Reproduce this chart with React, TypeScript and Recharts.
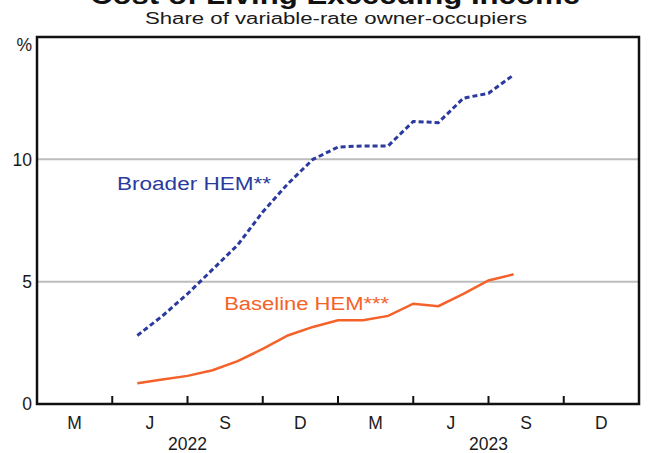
import React from 'react';
import { LineChart, Line, XAxis, YAxis, CartesianGrid, ReferenceArea, ReferenceDot } from 'recharts';

// ---- data ----
const months = [
  '2022-04', '2022-05', '2022-06', '2022-07', '2022-08', '2022-09', '2022-10', '2022-11',
  '2022-12', '2023-01', '2023-02', '2023-03', '2023-04', '2023-05', '2023-06', '2023-07',
];
const broaderHEM = [2.8, 3.6, 4.5, 5.5, 6.5, 7.85, 9.0, 10.0, 10.5, 10.55, 10.55, 11.55, 11.5, 12.5, 12.7, 13.45];
const baselineHEM = [0.85, 1.0, 1.15, 1.38, 1.75, 2.25, 2.8, 3.15, 3.42, 3.42, 3.6, 4.1, 4.0, 4.5, 5.05, 5.3];
const quarterLabels = ['M', 'J', 'S', 'D', 'M', 'J', 'S', 'D'];
const yearLabels = ['2022', '2023'];
const yTicks = [0, 5, 10, 15];
const yTickLabels = ['0', '5', '10', '%'];

const FONT = '"Liberation Sans", Arial, Helvetica, sans-serif';
const BLUE = '#2b3a9e';
const ORANGE = '#f4622a';
const TEXT = '#1a1a1a';

// month-end position, months since Jan 2022
const monthPos = (s: string) => {
  const [y, m] = s.split('-').map(Number);
  return (y - 2022) * 12 + m;
};

const data = months.map((mo, i) => ({
  x: monthPos(mo),
  broader: broaderHEM[i],
  baseline: baselineHEM[i],
}));

const xStart = 0;
const xEnd = quarterLabels.length * 3;
const xTicks: number[] = [];
for (let q = 0; q <= quarterLabels.length; q++) {
  xTicks.push(q * 3);
  if (q < quarterLabels.length) xTicks.push(q * 3 + 1.5);
}

const XTick = (props: any) => {
  const { x, y, payload } = props;
  const v = payload.value as number;
  if (v % 3 === 0) {
    const yearIdx = (v - 6) / 12;
    const hasYear = Number.isInteger(yearIdx) && yearIdx >= 0 && yearIdx < yearLabels.length;
    return (
      <g>
        <line x1={x} x2={x} y1={y} y2={y - 8} stroke="#111" strokeWidth={2} />
        {hasYear && (
          <text x={x} y={y + 46} textAnchor="middle" fontFamily={FONT} fontSize={17.5} fill={TEXT}>
            {yearLabels[yearIdx]}
          </text>
        )}
      </g>
    );
  }
  const qi = Math.floor(v / 3);
  return (
    <text x={x} y={y + 25} textAnchor="middle" fontFamily={FONT} fontSize={17.5} fill={TEXT}>
      {quarterLabels[qi]}
    </text>
  );
};

const YTick = (props: any) => {
  const { x, y, payload, textAnchor } = props;
  const idx = yTicks.indexOf(payload.value);
  const isUnit = idx === yTicks.length - 1;
  return (
    <text
      x={x}
      y={y + (isUnit ? 8 : 0)}
      dy="0.36em"
      textAnchor={textAnchor}
      fontFamily={FONT}
      fontSize={17.5}
      fill={TEXT}
    >
      {yTickLabels[idx]}
    </text>
  );
};

const SeriesLabel = (props: any) => {
  const { viewBox, text, color, len } = props;
  if (!viewBox) return null;
  return (
    <text
      x={viewBox.x}
      y={viewBox.y + viewBox.height / 2}
      dy="0.36em"
      fontFamily={FONT}
      fontSize={18}
      fill={color}
      textLength={len}
      lengthAdjust="spacingAndGlyphs"
    >
      {text}
    </text>
  );
};

export default function App() {
  return (
    <div style={{ position: 'absolute', left: 0, top: 0, width: 670, height: 453, background: '#fff' }}>
      <svg width={670} height={453} style={{ position: 'absolute', left: 0, top: 0 }}>
        <text x={335} y={4} textAnchor="middle" fontFamily={FONT} fontWeight="bold" fontSize={26} fill="#111" textLength={490} lengthAdjust="spacingAndGlyphs">
          Cost of Living Exceeding Income
        </text>
        <text x={336} y={24} textAnchor="middle" fontFamily={FONT} fontSize={16} fill={TEXT} textLength={382} lengthAdjust="spacingAndGlyphs">
          Share of variable-rate owner-occupiers
        </text>
      </svg>
      <div style={{ position: 'absolute', left: 0, top: 0 }}>
        <LineChart width={670} height={453} data={data} margin={{ top: 37, right: 0, bottom: 0, left: 0 }}>
          <CartesianGrid yAxisId="left" vertical={false} stroke="#bdbdbd" strokeWidth={2} />
          <XAxis
            dataKey="x"
            type="number"
            domain={[xStart, xEnd]}
            ticks={xTicks}
            interval={0}
            height={49}
            axisLine={false}
            tickLine={false}
            tickSize={0}
            tickMargin={0}
            tick={<XTick />}
          />
          <YAxis
            yAxisId="left"
            orientation="left"
            width={37}
            domain={[0, 15]}
            ticks={yTicks}
            interval={0}
            axisLine={false}
            tickLine={false}
            tickSize={0}
            tickMargin={5}
            tick={<YTick />}
          />
          <YAxis
            yAxisId="right"
            orientation="right"
            width={31}
            domain={[0, 15]}
            ticks={yTicks}
            interval={0}
            axisLine={false}
            tickLine={false}
            tickSize={0}
            tickMargin={5}
            tick={<YTick />}
          />
          <Line
            yAxisId="left"
            type="linear"
            dataKey="broader"
            stroke={BLUE}
            strokeWidth={3}
            strokeDasharray="5 3"
            dot={false}
            isAnimationActive={false}
          />
          <Line
            yAxisId="left"
            type="linear"
            dataKey="baseline"
            stroke={ORANGE}
            strokeWidth={2.5}
            dot={false}
            isAnimationActive={false}
          />
          <ReferenceArea
            yAxisId="left"
            x1={xStart}
            x2={xEnd}
            y1={0}
            y2={15}
            fill="none"
            stroke="#111"
            strokeWidth={2.5}
            ifOverflow="visible"
          />
          <ReferenceDot
            yAxisId="left"
            x={3.23}
            y={9.0}
            r={1}
            fill="none"
            stroke="none"
            label={<SeriesLabel text="Broader HEM**" color={BLUE} len={154} />}
          />
          <ReferenceDot
            yAxisId="left"
            x={7.5}
            y={4.1}
            r={1}
            fill="none"
            stroke="none"
            label={<SeriesLabel text="Baseline HEM***" color={ORANGE} len={165} />}
          />
        </LineChart>
      </div>
    </div>
  );
}
